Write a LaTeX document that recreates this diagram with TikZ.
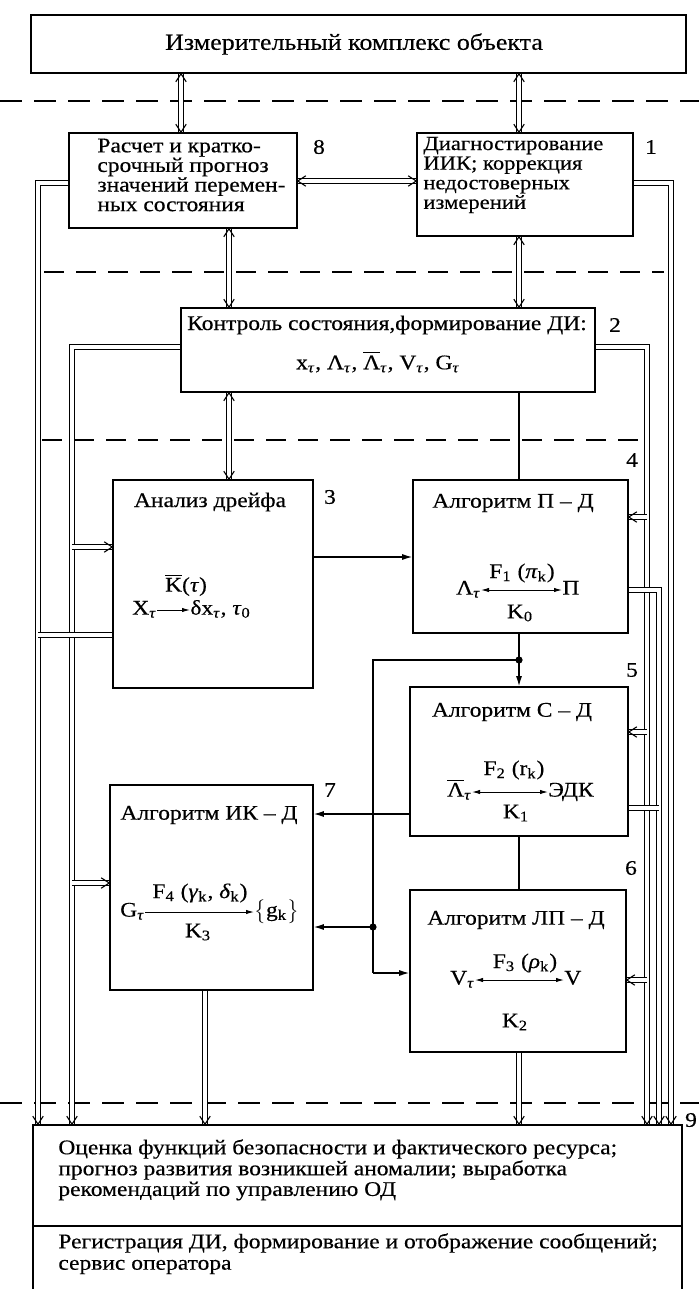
\documentclass[tikz,border=0pt]{standalone}
\usepackage{fontspec}
\setmainfont{Liberation Serif}[FakeStretch=1.13,FakeBold=0.4]
\usetikzlibrary{arrows.meta,calc}
\newcommand{\tsb}{\textsubscript{\textit{τ}}}
\newcommand{\ovl}[1]{$\overline{\hbox{#1}}$}
\newcommand{\vhead}[2]{\draw[vtip] ($(#1)!4.8pt!33:(#2)$) -- (#1) -- ($(#1)!4.8pt!-33:(#2)$);}
\begin{document}
\begin{tikzpicture}[x=0.5pt,y=-0.5pt,
  font=\fontsize{10.4}{9.8}\selectfont,
  box/.style={draw, line width=0.8pt, inner sep=0pt},
  txt/.style={inner sep=0pt},
  dbl/.style={double, double distance=1.8pt, line width=0.45pt},
  vtip/.style={line width=0.55pt, line join=miter},
  sar/.style={line width=0.6pt, -{Latex[length=5pt,width=3pt]}},
  sln/.style={line width=0.6pt},
  far/.style={line width=0.5pt, -{Latex[length=4pt,width=2.2pt]}},
  fdar/.style={line width=0.5pt, {Latex[length=4pt,width=2.2pt]}-{Latex[length=4pt,width=2.2pt]}},
  dsh/.style={dash pattern=on 11pt off 6pt, line width=0.9pt},
  dsl/.style={dash pattern=on 10pt off 6pt, line width=0.6pt},
]
\useasboundingbox (0,0) rectangle (699,1289);

% boxes
\node[box, minimum width=327.5pt, minimum height=29pt] (top) at (358.5,44) {};
\node[box, minimum width=114pt, minimum height=47.5pt] (b8) at (183,180.5) {};
\node[box, minimum width=108pt, minimum height=51.5pt] (b1) at (525,184.5) {};
\node[box, minimum width=207pt, minimum height=42pt] (b2) at (388,350) {};
\node[box, minimum width=100pt, minimum height=104pt] (b3) at (213,584) {};
\node[box, minimum width=107.5pt, minimum height=76.5pt] (b4) at (520.5,556.5) {};
\node[box, minimum width=109pt, minimum height=74.5pt] (b5) at (519,761.5) {};
\node[box, minimum width=108pt, minimum height=81pt] (b6) at (518,971) {};
\node[box, minimum width=101.5pt, minimum height=102.5pt] (b7) at (211.5,887.5) {};
\node[box, minimum width=324.5pt, minimum height=85pt] (b9) at (357.5,1210) {};

% texts
\node[txt, font=\fontsize{11.5}{11.5}\selectfont] (ttop) at (354,44) {Измерительный комплекс объекта};
\node[txt, anchor=west, align=left] (t8) at (97,175) {Расчет и кратко-\\срочный прогноз\\значений перемен-\\ных состояния};
\node[txt, anchor=west, align=left, font=\fontsize{10}{9.8}\selectfont] (t1) at (423,175) {Диагностирование\\ИИК; коррекция\\недостоверных\\ измерений};
\node[txt] (t2) at (387,325) {Контроль состояния,формирование ДИ:};
\node[txt] (f2) at (378,362) {x\tsb, Λ\tsb, \ovl{Λ}\tsb, V\tsb, G\tsb};
\node[txt] (t3) at (210,502) {Анализ дрейфа};
\node[txt] (t4) at (513,503) {Алгоритм П – Д};
\node[txt] (t5) at (512,712) {Алгоритм С – Д};
\node[txt] (t6) at (516,920) {Алгоритм ЛП – Д};
\node[txt] (t7) at (209,815) {Алгоритм ИК – Д};

% labels
\node[txt] (n8) at (319,147) {8};
\node[txt] (n1) at (651,147) {1};
\node[txt] (n2) at (615,325) {2};
\node[txt] (n3) at (330,497) {3};
\node[txt] (n4) at (632,460) {4};
\node[txt] (n5) at (632,670) {5};
\node[txt] (n6) at (631,868) {6};
\node[txt] (n7) at (330,790) {7};
\node[txt] (n9) at (691,1120) {9};

% formulas
\node[txt] (f3k) at (186,585) {\ovl{K}(\textit{τ})};
\node[txt, anchor=mid east] (f3x) at (157,610) {X\tsb};
\node[txt, anchor=mid west] (f3d) at (190,610) {δx\tsb, \textit{τ}\textsubscript{0}};
\draw[far] (f3x.mid east) -- (f3d.mid west);

\node[txt] (f4f) at (522,573) {F\textsubscript{1} (\textit{π}\textsubscript{k})};
\node[txt, anchor=mid east] (f4l) at (481,590) {Λ\tsb};
\node[txt, anchor=mid west] (f4p) at (562,590) {П};
\draw[fdar] (f4l.mid east) -- (f4p.mid west);
\node[txt] (f4k) at (520,613) {K\textsubscript{0}};

\node[txt] (f5f) at (514,770) {F\textsubscript{2} (r\textsubscript{k})};
\node[txt, anchor=mid east] (f5l) at (472,792) {\ovl{Λ}\tsb};
\node[txt, anchor=mid west] (f5e) at (548,792) {ЭДК};
\draw[fdar] (f5l.mid east) -- (f5e.mid west);
\node[txt] (f5k) at (516,813) {K\textsubscript{1}};

\node[txt] (f6f) at (525,963) {F\textsubscript{3} (\textit{ρ}\textsubscript{k})};
\node[txt, anchor=mid east] (f6l) at (475,980) {V\tsb};
\node[txt, anchor=mid west] (f6v) at (564,980) {V};
\draw[fdar] (f6l.mid east) -- (f6v.mid west);
\node[txt] (f6k) at (515,1022) {K\textsubscript{2}};

\node[txt] (f7f) at (200,893) {F\textsubscript{4} (\textit{γ}\textsubscript{k}, \textit{δ}\textsubscript{k})};
\node[txt, anchor=mid east] (f7g) at (145,912) {G\tsb};
\node[txt, anchor=mid west] (f7s) at (254,912) {$\bigl\{$g\textsubscript{k}$\bigr\}$};
\draw[far] (f7g.mid east) -- (f7s.mid west);
\node[txt] (f7k) at (198,932) {K\textsubscript{3}};

% bottom box texts
\node[txt, anchor=west] (l1) at (58,1149) {Оценка функций безопасности и фактического ресурса;};
\node[txt, anchor=west] (l2) at (58,1170) {прогноз развития возникшей аномалии; выработка};
\node[txt, anchor=west] (l3) at (58,1191) {рекомендаций по управлению ОД};
\node[txt, anchor=west] (l4) at (58,1243) {Регистрация ДИ, формирование и отображение сообщений;};
\node[txt, anchor=west] (l5) at (58,1267) {сервис оператора};
\coordinate (yDiv) at (0,1226);
\draw[line width=0.8pt] (b9.west |- yDiv) -- (b9.east |- yDiv);

% dashed separators
\draw[dsh] (0,101) -- (699,101);
\draw[dsl] (44,272) -- (664,272);
\draw[dsl] (42,440) -- (648,440);
\draw[dsh] (0,1103) -- (699,1103);

% coordinates
\coordinate (xA) at (181,0);
\coordinate (xB) at (519,0);
\coordinate (xC) at (229,0);
\coordinate (xE) at (519,0);
\coordinate (x7) at (205,0);
\coordinate (yH) at (0,181);
\coordinate (y34) at (0,557);
\coordinate (y57) at (0,814);
\coordinate (y3o) at (0,635);
\coordinate (y3i) at (0,547);
\coordinate (y7i) at (0,883);
\coordinate (y4i) at (0,517);
\coordinate (y5i) at (0,732);
\coordinate (y6i) at (0,980);
\coordinate (y5o) at (0,808);
\coordinate (oL) at (38,183);
\coordinate (iL) at (72,347);
\coordinate (rA) at (647,347);
\coordinate (rB) at (659,590);
\coordinate (rC) at (671,183);
\coordinate (dot1) at (519,660);
\coordinate (cL) at (373,660);
\coordinate (dot2) at (373,927);
\coordinate (cB) at (373,973);

% double-line arrows (top part)
\draw[dbl] (top.south -| xA) -- (b8.north -| xA);
\vhead{top.south -| xA}{b8.north -| xA}
\vhead{b8.north -| xA}{top.south -| xA}
\draw[dbl] (top.south -| xB) -- (b1.north -| xB);
\vhead{top.south -| xB}{b1.north -| xB}
\vhead{b1.north -| xB}{top.south -| xB}
\draw[dbl] (b8.east |- yH) -- (b1.west |- yH);
\vhead{b8.east |- yH}{b1.west |- yH}
\vhead{b1.west |- yH}{b8.east |- yH}
\draw[dbl] (b8.south -| xC) -- (b2.north -| xC);
\vhead{b8.south -| xC}{b2.north -| xC}
\vhead{b2.north -| xC}{b8.south -| xC}
\draw[dbl] (b1.south -| xB) -- (b2.north -| xB);
\vhead{b1.south -| xB}{b2.north -| xB}
\vhead{b2.north -| xB}{b1.south -| xB}
\draw[dbl] (b2.south -| xC) -- (b3.north -| xC);
\vhead{b2.south -| xC}{b3.north -| xC}
\vhead{b3.north -| xC}{b2.south -| xC}

% single lines
\draw[sln] (b2.south -| xE) -- (b4.north -| xE);
\draw[sar] (b3.east |- y34) -- (b4.west |- y34);
\draw[sln] (b4.south -| xE) -- (dot1);
\draw[sar] (dot1) -- (b5.north -| xE);
\draw[sln] (dot1) -- (cL) -- (dot2) -- (cB);
\draw[sar] (cB) -- (b6.west |- cB);
\draw[sar] (dot2) -- (b7.east |- dot2);
\draw[sar] (b5.west |- y57) -- (b7.east |- y57);
\draw[sln] (b5.south -| xE) -- (b6.north -| xE);
\fill (dot1) circle (1.8pt);
\fill (dot2) circle (1.8pt);

% left buses
\draw[dbl] (b8.west |- oL) -- (oL) -- (oL |- b9.north);
\vhead{oL |- b9.north}{oL}
\draw[dbl] (b2.west |- iL) -- (iL) -- (iL |- b9.north);
\vhead{iL |- b9.north}{iL}
\draw[dbl] (b3.west |- y3o) -- (oL |- y3o);
\draw[dbl] (iL |- y3i) -- (b3.west |- y3i);
\vhead{b3.west |- y3i}{iL |- y3i}
\draw[dbl] (iL |- y7i) -- (b7.west |- y7i);
\vhead{b7.west |- y7i}{iL |- y7i}
\draw[dbl] (b7.south -| x7) -- (b9.north -| x7);
\vhead{b9.north -| x7}{b7.south -| x7}
\draw[dbl] (b6.south -| xE) -- (b9.north -| xE);
\vhead{b9.north -| xE}{b6.south -| xE}

% right buses
\draw[dbl] (b1.east |- rC) -- (rC) -- (rC |- b9.north);
\vhead{rC |- b9.north}{rC}
\draw[dbl] (b2.east |- rA) -- (rA) -- (rA |- b9.north);
\vhead{rA |- b9.north}{rA}
\draw[dbl] (b4.east |- rB) -- (rB) -- (rB |- b9.north);
\vhead{rB |- b9.north}{rB}
\draw[dbl] (b5.east |- y5o) -- (rB |- y5o);
\draw[dbl] (rA |- y4i) -- (b4.east |- y4i);
\vhead{b4.east |- y4i}{rA |- y4i}
\draw[dbl] (rA |- y5i) -- (b5.east |- y5i);
\vhead{b5.east |- y5i}{rA |- y5i}
\draw[dbl] (rA |- y6i) -- (b6.east |- y6i);
\vhead{b6.east |- y6i}{rA |- y6i}
\end{tikzpicture}
\end{document}
